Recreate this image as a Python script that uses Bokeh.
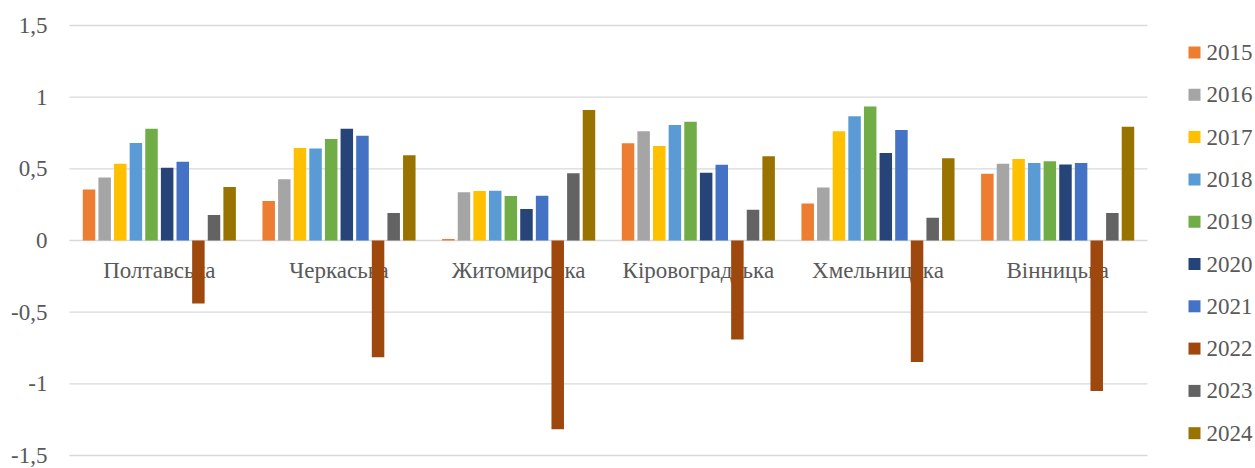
from bokeh.plotting import figure
from bokeh.models import Range1d, ColumnDataSource
from bokeh.core.properties import value
from bokeh.embed import file_html
from bokeh.resources import INLINE

# Regions (categories on the x axis)
regions = ["Полтавська", "Черкаська", "Житомирська", "Кіровоградська", "Хмельницька", "Вінницька"]

# Series: one list per year, in region order
years = ["2015", "2016", "2017", "2018", "2019", "2020", "2021", "2022", "2023", "2024"]
v2015 = [0.356, 0.276, 0.010, 0.678, 0.259, 0.465]
v2016 = [0.440, 0.428, 0.336, 0.762, 0.370, 0.535]
v2017 = [0.535, 0.646, 0.345, 0.660, 0.762, 0.569]
v2018 = [0.680, 0.641, 0.347, 0.806, 0.866, 0.540]
v2019 = [0.780, 0.708, 0.310, 0.829, 0.935, 0.553]
v2020 = [0.507, 0.780, 0.220, 0.472, 0.611, 0.530]
v2021 = [0.550, 0.731, 0.312, 0.528, 0.771, 0.540]
v2022 = [-0.440, -0.815, -1.317, -0.690, -0.847, -1.050]
v2023 = [0.178, 0.192, 0.470, 0.215, 0.158, 0.192]
v2024 = [0.373, 0.595, 0.910, 0.588, 0.574, 0.794]
series = [v2015, v2016, v2017, v2018, v2019, v2020, v2021, v2022, v2023, v2024]

colors = ["#ED7D31", "#A5A5A5", "#FFC000", "#5B9BD5", "#70AD47",
          "#264478", "#4472C4", "#9E480E", "#636363", "#997300"]

y_ticks = [-1.5, -1.0, -0.5, 0.0, 0.5, 1.0, 1.5]
y_tick_labels = ["-1,5", "-1", "-0,5", "0", "0,5", "1", "1,5"]

FONT = "Times New Roman, Liberation Serif, serif"
TEXT_COLOR = "#595959"
FONT_SIZE = "23px"

W, H = 1255, 468
# Bar area in canvas pixels: left/right and the pixel rows of the +1.5 / -1.5 gridlines
AREA_L, AREA_R = 69, 1147
ROW_TOP, ROW_BOT = 25, 455

n_cat = len(regions)
y_lo, y_hi = y_ticks[0], y_ticks[-1]
x_per_px = n_cat / (AREA_R - AREA_L)
y_per_px = (y_hi - y_lo) / (ROW_BOT - ROW_TOP)


def px_to_x(px):
    return (px - AREA_L) * x_per_px


def py_to_y(py):
    return y_hi - (py - ROW_TOP) * y_per_px


# The frame covers the whole canvas so labels and legend sit inside it
p = figure(width=W, height=H, output_backend="svg", toolbar_location=None,
           x_range=Range1d(px_to_x(0), px_to_x(W)), y_range=Range1d(py_to_y(H), py_to_y(0)),
           min_border_left=0, min_border_right=0, min_border_top=0, min_border_bottom=0)
p.outline_line_color = None
p.background_fill_color = "white"
p.border_fill_color = "white"
p.xaxis.visible = False
p.yaxis.visible = False
p.xgrid.visible = False
p.ygrid.visible = False

# Horizontal gridlines across the category area only
p.segment(x0=[0] * len(y_ticks), x1=[n_cat] * len(y_ticks), y0=y_ticks, y1=y_ticks,
          line_color="#D9D9D9", line_width=1.3)

# Value labels on the left
tick_src = ColumnDataSource(dict(x=[0] * len(y_ticks), y=y_ticks, t=y_tick_labels))
p.text(x="x", y="y", text="t", source=tick_src, text_align="right",
       text_baseline="middle", x_offset=-22, text_font=value(FONT),
       text_font_size=FONT_SIZE, text_color=TEXT_COLOR)

# Category labels just under the zero line (drawn before bars so bars sit on top)
centers = [i + 0.5 for i in range(n_cat)]
lab_src = ColumnDataSource(dict(x=centers, y=[0.0] * n_cat, t=regions))
p.text(x="x", y="y", text="t", source=lab_src, text_align="center",
       text_baseline="middle", y_offset=30, text_font=value(FONT),
       text_font_size=FONT_SIZE, text_color=TEXT_COLOR)

# Clustered bars: 10 series per region, 150% gap width
n = len(years)
slot = 1.0 / (n + 1.5)
for i, (vals, col) in enumerate(zip(series, colors)):
    xs = [c + (i - (n - 1) / 2) * slot for c in centers]
    src = ColumnDataSource(dict(x=xs, top=vals))
    p.vbar(x="x", top="top", bottom=0, width=slot * 0.8, source=src,
           fill_color=col, line_color=None)

# Legend: a column of colour squares with year labels to the right of the bars
LEG_X, LEG_Y0, LEG_PITCH = 1194, 52, 42.3
leg_src = ColumnDataSource(dict(
    x=[px_to_x(LEG_X)] * n,
    y=[py_to_y(LEG_Y0 + k * LEG_PITCH) for k in range(n)],
    c=colors, t=years))
p.scatter(x="x", y="y", source=leg_src, marker="square", size=12,
          fill_color="c", line_color=None)
p.text(x="x", y="y", text="t", source=leg_src, text_align="left",
       text_baseline="middle", x_offset=12, text_font=value(FONT),
       text_font_size=FONT_SIZE, text_color=TEXT_COLOR)

open("out.html", "w").write(file_html(p, INLINE))
